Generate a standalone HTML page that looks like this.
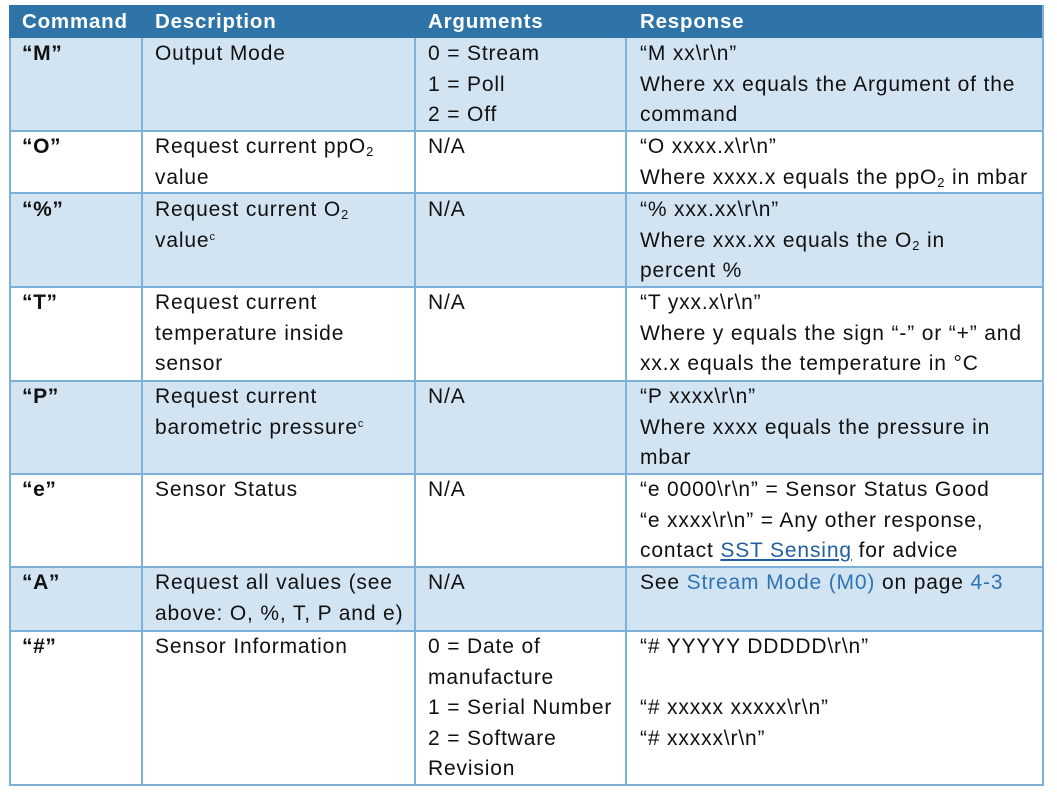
<!DOCTYPE html>
<html><head><meta charset="utf-8"><style>
body{margin:0;width:1057px;height:795px;background:#fff;overflow:hidden;font-family:"Liberation Sans",sans-serif;}
.r{position:absolute;left:9px;width:1035px;}
.l{background:#d2e4f2;}
.h{background:#2e74a8;}
.vl{position:absolute;top:5px;height:781px;width:2px;background:#7eb0da;}
.hl{position:absolute;left:9px;width:1035px;height:2px;background:#7eb0da;}
.c{position:absolute;font-size:21px;letter-spacing:0.85px;line-height:30.5px;color:#111;white-space:nowrap;}
.b{font-weight:bold;letter-spacing:0.6px;}
.hd{color:#fff;font-weight:bold;font-size:20.5px;letter-spacing:0.8px;}
.a{color:#2e74b5;}
.u{color:#1f5f9f;text-decoration:underline;}
sub{font-size:13px;vertical-align:-3px;line-height:0;}
sup{font-size:11px;vertical-align:7px;line-height:0;}
</style></head><body>
<div class="r h" style="top:5px;height:33px"></div>
<div class="r l" style="top:38px;height:93px"></div>
<div class="r l" style="top:193px;height:94px"></div>
<div class="r l" style="top:381px;height:93px"></div>
<div class="r l" style="top:567px;height:64px"></div>
<div class="vl" style="left:9px;top:38px;height:748px"></div>
<div class="vl" style="left:141px;top:38px;height:748px"></div>
<div class="vl" style="left:414px;top:38px;height:748px"></div>
<div class="vl" style="left:625px;top:38px;height:748px"></div>
<div class="vl" style="left:1042px;top:5px;height:781px"></div>
<div class="hl" style="top:130px"></div>
<div class="hl" style="top:192px"></div>
<div class="hl" style="top:286px"></div>
<div class="hl" style="top:380px"></div>
<div class="hl" style="top:473px"></div>
<div class="hl" style="top:566px"></div>
<div class="hl" style="top:630px"></div>
<div class="hl" style="top:784px"></div>

<div class="c hd" style="left:22px;top:7px">Command</div>
<div class="c hd" style="left:155px;top:7px">Description</div>
<div class="c hd" style="left:428px;top:7px">Arguments</div>
<div class="c hd" style="left:640px;top:7px">Response</div>

<div class="c b" style="left:22px;top:39px">“M”</div>
<div class="c" style="left:155px;top:39px">Output Mode</div>
<div class="c" style="left:428px;top:39px">0 = Stream<br>1 = Poll<br>2 = Off</div>
<div class="c" style="left:640px;top:39px">“M xx\r\n”<br>Where xx equals the Argument of the<br>command</div>

<div class="c b" style="left:22px;top:132px">“O”</div>
<div class="c" style="left:155px;top:132px">Request current ppO<sub>2</sub><br>value</div>
<div class="c" style="left:428px;top:132px">N/A</div>
<div class="c" style="left:640px;top:132px">“O xxxx.x\r\n”<br>Where xxxx.x equals the ppO<sub>2</sub> in mbar</div>

<div class="c b" style="left:22px;top:195px">“%”</div>
<div class="c" style="left:155px;top:195px">Request current O<sub>2</sub><br>value<sup>c</sup></div>
<div class="c" style="left:428px;top:195px">N/A</div>
<div class="c" style="left:640px;top:195px">“% xxx.xx\r\n”<br>Where xxx.xx equals the O<sub>2</sub> in<br>percent %</div>

<div class="c b" style="left:22px;top:288px">“T”</div>
<div class="c" style="left:155px;top:288px">Request current<br>temperature inside<br>sensor</div>
<div class="c" style="left:428px;top:288px">N/A</div>
<div class="c" style="left:640px;top:288px">“T yxx.x\r\n”<br>Where y equals the sign “-” or “+” and<br>xx.x equals the temperature in °C</div>

<div class="c b" style="left:22px;top:382px">“P”</div>
<div class="c" style="left:155px;top:382px">Request current<br>barometric pressure<sup>c</sup></div>
<div class="c" style="left:428px;top:382px">N/A</div>
<div class="c" style="left:640px;top:382px">“P xxxx\r\n”<br>Where xxxx equals the pressure in<br>mbar</div>

<div class="c b" style="left:22px;top:475px">“e”</div>
<div class="c" style="left:155px;top:475px">Sensor Status</div>
<div class="c" style="left:428px;top:475px">N/A</div>
<div class="c" style="left:640px;top:475px">“e 0000\r\n” = Sensor Status Good<br>“e xxxx\r\n” = Any other response,<br>contact <span class="u">SST Sensing</span> for advice</div>

<div class="c b" style="left:22px;top:568px">“A”</div>
<div class="c" style="left:155px;top:568px">Request all values (see<br>above: O, %, T, P and e)</div>
<div class="c" style="left:428px;top:568px">N/A</div>
<div class="c" style="left:640px;top:568px">See <span class="a">Stream Mode (M0)</span> on page <span class="a">4-3</span></div>

<div class="c b" style="left:22px;top:632px">“#”</div>
<div class="c" style="left:155px;top:632px">Sensor Information</div>
<div class="c" style="left:428px;top:632px">0 = Date of<br>manufacture<br>1 = Serial Number<br>2 = Software<br>Revision</div>
<div class="c" style="left:640px;top:632px">“# YYYYY DDDDD\r\n”<br>&nbsp;<br>“# xxxxx xxxxx\r\n”<br>“# xxxxx\r\n”</div>
</body></html>
